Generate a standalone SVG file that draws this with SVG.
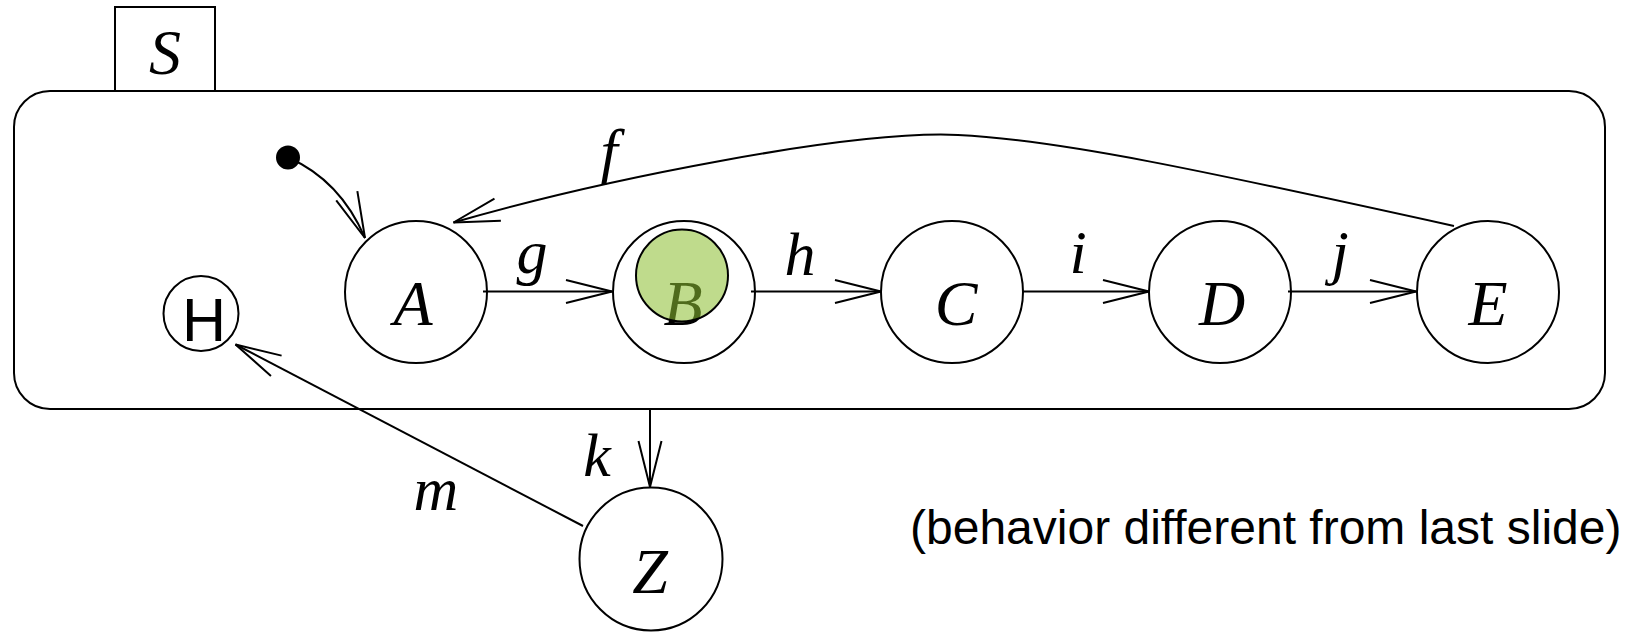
<svg xmlns="http://www.w3.org/2000/svg" width="1634" height="636" viewBox="0 0 1634 636">
<style>
.st{fill:#fff;stroke:#000;stroke-width:2}
.ln{fill:none;stroke:#000;stroke-width:2}
.lbl{font-family:"Liberation Serif","Times New Roman",serif;font-style:italic;font-size:62px;fill:#000}
.nm{font-family:"Liberation Serif","Times New Roman",serif;font-style:italic;font-size:64px;fill:#000;text-anchor:middle}
.sans{font-family:"Liberation Sans",Arial,sans-serif;fill:#000}
</style>
<defs>
<marker id="arr" markerUnits="userSpaceOnUse" viewBox="-50 -16 56 32" markerWidth="56" markerHeight="32" refX="0" refY="0" orient="auto" overflow="visible">
<path d="M-46,-11.5 L0,0 L-46,11.5" fill="none" stroke="#000" stroke-width="2"/>
</marker>
</defs>
<rect width="1634" height="636" fill="#fff"/>
<g id="S">
<rect x="14" y="91" width="1591" height="318" rx="36" ry="36" class="st"/>
<rect x="115" y="7" width="100" height="84" class="st"/>
<text x="165" y="74" class="nm">S</text>
</g>
<g id="init">
<circle cx="288" cy="157.5" r="12" fill="#000"/>
</g>
<g id="H">
<circle cx="201" cy="313.5" r="37.5" class="st"/>
<text x="204" y="341" class="sans" font-size="61" text-anchor="middle">H</text>
</g>
<g id="A">
<circle cx="416" cy="292" r="71" class="st"/>
<text x="413" y="325" class="nm">A</text>
</g>
<g id="B">
<circle cx="684" cy="292" r="71" class="st"/>
<text x="683" y="325" class="nm">B</text>
<circle cx="682" cy="275.5" r="46" fill="#8CBE32" fill-opacity="0.56" stroke="#000" stroke-width="2"/>
</g>
<g id="C">
<circle cx="952" cy="292" r="71" class="st"/>
<text x="956" y="325" class="nm">C</text>
</g>
<g id="D">
<circle cx="1220" cy="292" r="71" class="st"/>
<text x="1222" y="325" class="nm">D</text>
</g>
<g id="E">
<circle cx="1488" cy="292" r="71" class="st"/>
<text x="1488" y="325" class="nm">E</text>
</g>
<g id="Z">
<circle cx="651" cy="559" r="71.5" class="st"/>
<text x="650" y="593" class="nm">Z</text>
</g>
<g id="connectors">
<path d="M288,157.5 Q340,180 365,238" class="ln" marker-end="url(#arr)"/>
<path d="M1454,226 C1200,170 1060,140 958,135 C850,130 600,180 453.5,222.5" class="ln" marker-end="url(#arr)"/>
<path d="M483,291.5 L612,291.5" class="ln" marker-end="url(#arr)"/>
<path d="M751,291.5 L881,291.5" class="ln" marker-end="url(#arr)"/>
<path d="M1022,291.5 L1149,291.5" class="ln" marker-end="url(#arr)"/>
<path d="M1288,291.5 L1416,291.5" class="ln" marker-end="url(#arr)"/>
<path d="M650,409 L650,487" class="ln" marker-end="url(#arr)"/>
<path d="M583,526 L235.5,344.5" class="ln" marker-end="url(#arr)"/>
<text x="609" y="172" class="lbl" text-anchor="middle">f</text>
<text x="532" y="273" class="lbl" text-anchor="middle">g</text>
<text x="800" y="275" class="lbl" text-anchor="middle">h</text>
<text x="1078" y="273" class="lbl" text-anchor="middle">i</text>
<text x="1340" y="273" class="lbl" text-anchor="middle">j</text>
<text x="597" y="476" class="lbl" text-anchor="middle">k</text>
<text x="436" y="510" class="lbl" text-anchor="middle">m</text>
</g>
<text x="910" y="544" class="sans" font-size="48">(behavior different from last slide)</text>
</svg>
